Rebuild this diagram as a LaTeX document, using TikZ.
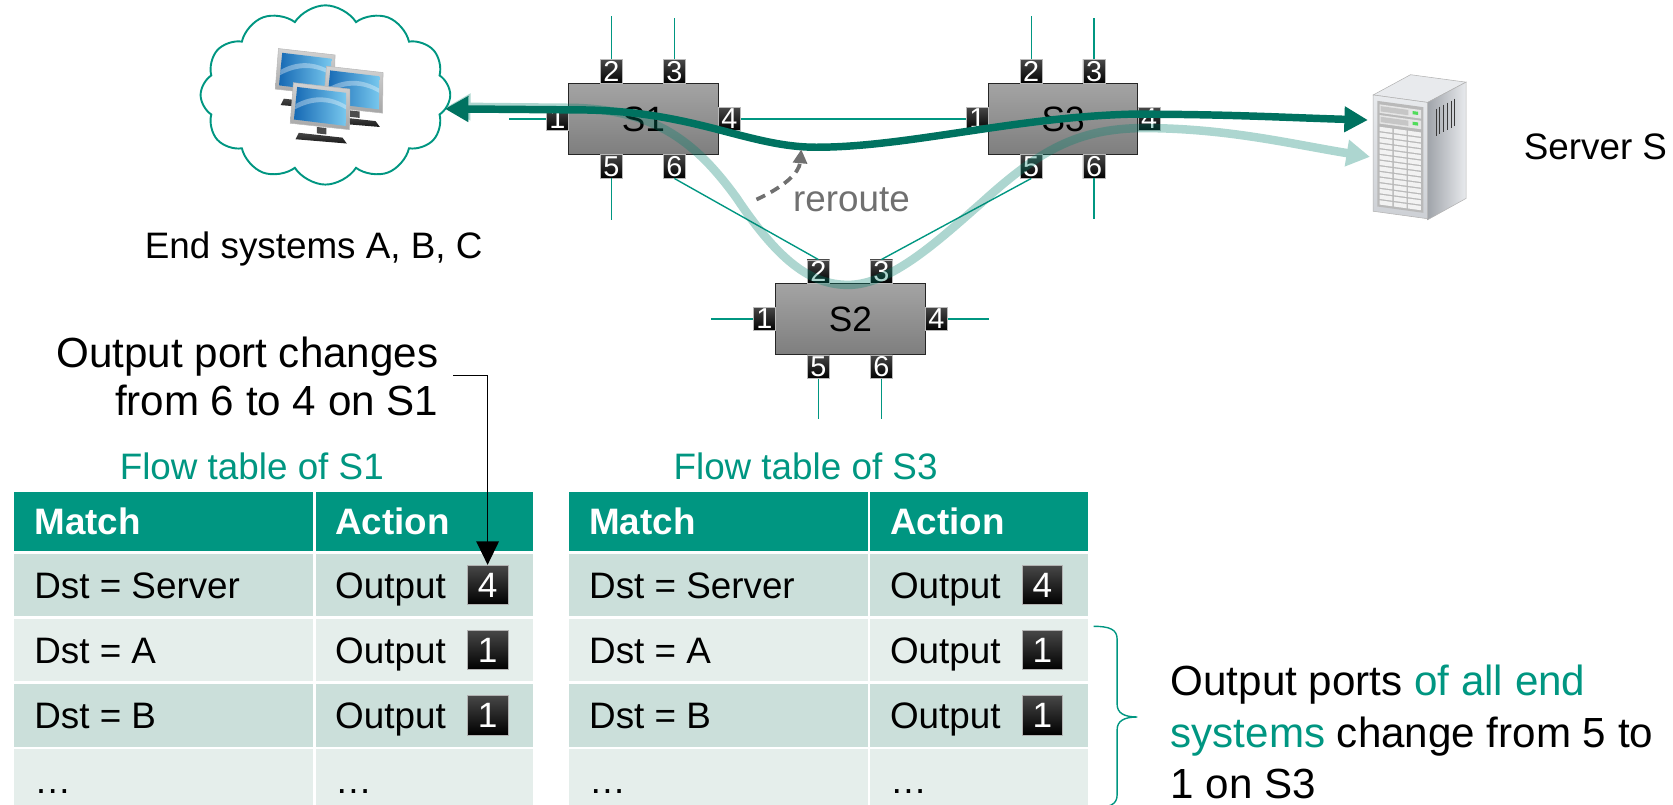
\documentclass[tikz,border=0pt]{standalone}
\usepackage{fontspec}
\setmainfont{Liberation Sans}
\usetikzlibrary{arrows.meta,shapes.symbols,calc}

\definecolor{hpeteal}{RGB}{0,150,129}
\definecolor{flowdark}{RGB}{0,114,96}
\definecolor{flowlight}{RGB}{0,128,108}
\definecolor{rowdark}{RGB}{203,223,218}
\definecolor{rowlight}{RGB}{229,238,235}
\definecolor{swtop}{RGB}{164,164,164}
\definecolor{swbot}{RGB}{126,126,126}
\definecolor{reroutegray}{RGB}{112,112,112}
\definecolor{scrA}{RGB}{22,105,180}
\definecolor{scrB}{RGB}{120,200,238}
\definecolor{srvlight}{RGB}{232,234,237}
\definecolor{srvmid}{RGB}{205,208,213}
\definecolor{srvdark}{RGB}{160,164,170}
\definecolor{ledgreen}{RGB}{80,220,90}

\newcommand\fsz[1]{\fontsize{#1}{#1}\selectfont}

% one switch: box with six numbered ports around it
\newcommand\drawswitch[3]{%
  \node[swbox] (#1) at (#2,#3) {#1};
  \node[port] (#1p1) at (#2-80.5,#3) {1};
  \node[port] (#1p4) at (#2+80.5,#3) {4};
  \node[port] (#1p2) at (#2-30,#3-44.5) {2};
  \node[port] (#1p3) at (#2+29,#3-44.5) {3};
  \node[port] (#1p5) at (#2-30,#3+44.5) {5};
  \node[port] (#1p6) at (#2+29,#3+44.5) {6};
}

% one desktop monitor, origin = top-left corner of the bezel
\newcommand\monitor[2]{%
  \begin{scope}[shift={(#1,#2)}]
    \path[draw=gray!55, line width=0.5pt, top color=gray!35, bottom color=gray!70]
      (0,0) -- (53,6) -- (52.5,44) -- (-3,38) -- cycle;
    \path[left color=scrA, right color=scrB]
      (3.5,4) -- (49.5,9.5) -- (49,40.5) -- (0.5,34.5) -- cycle;
    \fill[white, opacity=0.35] (2,20) .. controls (18,11) and (34,12) .. (49.3,21)
      -- (49.3,25) .. controls (34,16) and (18,16) .. (1.5,25) -- cycle;
    \fill[black!70] (22,41.5) -- (31,42.5) -- (31,48.5) -- (22,47.5) -- cycle;
    \path[top color=gray!55!black, bottom color=black!90]
      (5,47) -- (46,51.5) -- (50,57) -- (2,53) -- cycle;
  \end{scope}%
}

% one table row: prefix, row id, top y, fill colour, match text, action text
\newcommand\tabrow[6]{%
  \node[cell, fill=#4, minimum width=280pt] (#1m#2) at (13+\tabx,#3) {};
  \node[cell, fill=#4, minimum width=204pt] (#1a#2) at (295.5+\tabx,#3) {};
  \node[celltxt] (#1mt#2) at (32+\tabx,#3+41.6) {#5};
  \node[celltxt] (#1at#2) at (314+\tabx,#3+41.6) {#6};
}

\begin{document}
\begin{tikzpicture}[x=1pt,y=-1pt,
  swbox/.style={draw=black!85, line width=1pt, top color=swtop, bottom color=swbot,
    minimum width=140pt, minimum height=67pt, inner sep=0pt, font=\fsz{33}},
  port/.style={draw=gray!55, line width=0.5pt, top color=black!72, bottom color=black,
    text=white, minimum width=21pt, minimum height=22pt, inner sep=0pt, font=\fsz{27}},
  badge/.style={draw=gray!60, line width=0.6pt, top color=black!72, bottom color=black,
    text=white, minimum width=38pt, minimum height=37pt, inner sep=0pt, font=\fsz{33}},
  link/.style={draw=hpeteal, line width=1.3pt},
  headcell/.style={fill=hpeteal, anchor=north west, minimum height=55pt, inner sep=0pt},
  cell/.style={anchor=north west, minimum height=58.5pt, inner sep=0pt},
  headtxt/.style={anchor=base west, text=white, font=\fsz{34.5}\bfseries, inner sep=0pt},
  celltxt/.style={anchor=base west, font=\fsz{34.5}, inner sep=0pt},
  label/.style={font=\fsz{34.5}, inner sep=0pt},
  biglabel/.style={font=\fsz{39.5}, inner sep=0pt},
]
\useasboundingbox (0,0) rectangle (1568,754);
\clip (0,0) rectangle (1568,754);

% ---- end systems: cloud with three desktops
\node[cloud, draw=hpeteal, line width=1.8pt, cloud puffs=12, cloud puff arc=115,
  aspect=1.4, minimum width=234pt, minimum height=168pt, inner sep=0pt] (cloud) at (305,89) {};
\monitor{261}{45.5}
\monitor{306}{62}
\monitor{275}{77.5}

% ---- server tower
\path[fill=srvlight, draw=gray!60, line width=0.5pt] (1287,89) -- (1322,70) -- (1374,77) -- (1338,96) -- cycle;
\path[left color=srvdark, right color=srvlight, draw=gray!60, line width=0.5pt]
  (1338,96) -- (1374,77) -- (1374,186) -- (1338,206) -- cycle;
\foreach \vx in {1346,1349.5,...,1366}
  \draw[gray!45!black, line width=0.9pt] (\vx,{96-0.528*(\vx-1338)+10}) -- ++(0,26);
\begin{scope}[shift={(1287,89)}, yslant=-0.1373]
  \path[top color=srvlight, bottom color=srvmid, draw=gray!60, line width=0.5pt] (0,0) rectangle (51,109);
  \fill[gray!55] (4,5) rectangle (47,104);
  \foreach \sy in {8,18}{
    \fill[gray!20] (6,\sy) rectangle (45,\sy+8);
    \fill[gray!45] (7,\sy+1.5) rectangle (33,\sy+6.5);
    \fill[ledgreen] (37,\sy+2) rectangle (42,\sy+5);
  }
  \foreach \cx in {6,19.3,32.6}
    \foreach \ry in {29,34.3,...,99}
      \fill[white!90!gray] (\cx,\ry) rectangle (\cx+12,\ry+4);
\end{scope}

% ---- switches
\drawswitch{S1}{603}{111.5}
\drawswitch{S3}{996.5}{111.5}
\drawswitch{S2}{797}{299}

% ---- cables between ports
\draw[link] (S1p2.north) -- +(0,-41);
\draw[link] (S1p3.north) -- +(0,-39);
\draw[link] (S1p5.south) -- +(0,39);
\draw[link] (S1p1.west) -- +(-35,0);
\draw[link] (S3p2.north) -- +(0,-41);
\draw[link] (S3p3.north) -- +(0,-39);
\draw[link] (S3p6.south) -- +(0,38);
\draw[link] (S2p1.west) -- +(-39,0);
\draw[link] (S2p4.east) -- +(39,0);
\draw[link] (S2p5.south) -- +(0,38);
\draw[link] (S2p6.south) -- +(0,38);
\draw[link] (S1p4.east) -- (S3p1.west);
\draw[link] (S1p6.south) -- (S2p2.north);
\draw[link] (S3p5.south) -- (S2p3.north);

% ---- flows
\coordinate (cloudtipA) at (417,102);
\coordinate (cloudtipB) at (419,100);
\coordinate (srvtipA) at (1282,112.5);
\coordinate (srvtipB) at (1284,147);

% old path through S2 (translucent)
\begin{scope}[transparency group, opacity=0.32]
\draw[draw=flowlight, line width=8pt,
  {Triangle[length=22pt, width=24pt]}-{Triangle[length=22pt, width=24pt]}]
  (cloudtipB) -- (530,101)
  .. controls (610,101) and (650,130) .. (690,185)
  .. controls (730,245) and (760,267) .. (795,267)
  .. controls (835,267) and (880,225) .. (920,190)
  .. controls (975,140) and (1010,121) .. (1070,120)
  .. controls (1150,120) and (1210,135) .. (srvtipB);
\end{scope}

% new path S1 -> S3
\draw[draw=flowdark, line width=7pt,
  {Triangle[length=22pt, width=23pt]}-{Triangle[length=22pt, width=23pt]}]
  (cloudtipA) -- (540,103)
  .. controls (650,103) and (700,138) .. (765,138)
  .. controls (850,138) and (950,110) .. (1060,107)
  .. controls (1150,107) and (1200,110) .. (srvtipA);

% ---- reroute hint
\coordinate (rrA) at (709,187);
\coordinate (rrB) at (751,140);
\draw[reroutegray, line width=3.5pt, dash pattern=on 9pt off 6pt,
  -{Triangle[length=13pt, width=13pt]}]
  (rrA) .. controls (735,175) and (749,162) .. (rrB);
\node[label, anchor=base, text=reroutegray] (reroute) at (798,198) {reroute};

% ---- labels
\node[label, anchor=base] (eslabel) at (294,242) {End systems A, B, C};
\node[label, anchor=base west] (srvlabel) at (1428,149.5) {Server S};

% ---- flow tables
\node[label, anchor=base, text=hpeteal] (t1title) at (236,449.5) {Flow table of S1};
\node[label, anchor=base, text=hpeteal] (t3title) at (755,449.5) {Flow table of S3};

\foreach \pre/\off in {ta/0, tb/520}{
  \def\tabx{\off}
  \node[headcell, minimum width=280pt] (\pre hm) at (13+\tabx,461) {};
  \node[headcell, minimum width=204pt] (\pre ha) at (295.5+\tabx,461) {};
  \node[headtxt] (\pre hmt) at (32+\tabx,501) {Match};
  \node[headtxt] (\pre hat) at (314+\tabx,501) {Action};
  \tabrow{\pre}{1}{519}{rowdark}{Dst = Server}{Output}
  \tabrow{\pre}{2}{580}{rowlight}{Dst = A}{Output}
  \tabrow{\pre}{3}{641}{rowdark}{Dst = B}{Output}
  \tabrow{\pre}{4}{702}{rowlight}{…}{…}
  \node[badge] (\pre b1) at (457+\tabx,548.25) {4};
  \node[badge] (\pre b2) at (457+\tabx,609.25) {1};
  \node[badge] (\pre b3) at (457+\tabx,670.25) {1};
}

% ---- note on S1
\node[biglabel, anchor=base east] (anno1) at (411,344) {Output port changes};
\node[biglabel, anchor=base east] (anno2) at (411,389) {from 6 to 4 on S1};
\coordinate (annostart) at (425,352);
\draw[black, line width=1.4pt, -{Triangle[length=22pt, width=21pt]}] (annostart) -| (tab1.north);

% ---- note on S3
\draw[hpeteal, line width=1.3pt]
  (1025,587) .. controls (1040,587) and (1047,590) .. (1047,599) -- (1047,660)
  .. controls (1047,668) and (1053,672) .. (1066,672)
  .. controls (1053,672) and (1047,676) .. (1047,684) -- (1047,745)
  .. controls (1047,754) and (1040,757) .. (1025,757);
\node[biglabel, anchor=base west] (note1) at (1097,652) {Output ports \textcolor{hpeteal}{of all end}};
\node[biglabel, anchor=base west] (note2) at (1097,701) {\textcolor{hpeteal}{systems} change from 5 to};
\node[biglabel, anchor=base west] (note3) at (1097,748) {1 on S3};
\end{tikzpicture}
\end{document}
